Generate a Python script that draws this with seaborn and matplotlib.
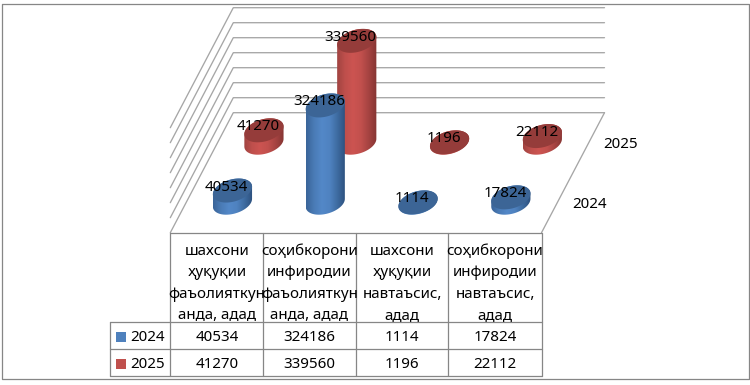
"""
3D cylinder chart with a data table, drawn on a pixel sized axes
"""

import numpy as np
import matplotlib
matplotlib.use('Agg')
import matplotlib.pyplot as plt
from matplotlib.patches import Polygon
import seaborn as sns

# Data
years = ['2024', '2025']
categories = [
    ['шахсони', 'ҳуқуқии', 'фаъолияткун', 'анда, адад'],
    ['соҳибкорони', 'инфиродии', 'фаъолияткун', 'анда, адад'],
    ['шахсони', 'ҳуқуқии', 'навтаъсис,', 'адад'],
    ['соҳибкорони', 'инфиродии', 'навтаъсис,', 'адад'],
]
values_2024 = [40534, 324186, 1114, 17824]
values_2025 = [41270, 339560, 1196, 22112]
grid_levels = [0, 50000, 100000, 150000, 200000, 250000, 300000, 350000]

sns.set_theme(style='white')
plt.rcParams['font.family'] = ['Noto Sans', 'DejaVu Sans']

FONT = 10.9
GREY = '#868686'
GRID = '#a6a6a6'

# Projection of the chart box onto the picture
FRONT_X, FRONT_Y = 170.3, 232.7
CAT_W = 92.8
DEPTH_X, DEPTH_Y = 31.5, -60.0
Z_SCALE = 15.0 / 50000
RADIUS = 0.2


def project(cat, ser, z=0):
    x = FRONT_X + np.asarray(cat) * CAT_W + np.asarray(ser) * DEPTH_X
    y = FRONT_Y + np.asarray(ser) * DEPTH_Y - np.asarray(z) * Z_SCALE
    return x, y


fig = plt.figure(figsize=(7.5, 3.85), dpi=100)
ax = fig.add_axes([0, 0, 1, 1])
ax.set_axis_off()

# Outer frame
ax.plot([1.5, 748.5, 748.5, 1.5, 1.5], [3.5, 3.5, 379, 379, 3.5], color=GREY, lw=0.9)

# Walls: one line along the back and one down the left side per level
right_x, _ = project(4, 2)
for level in grid_levels:
    bx, by = project(0, 2, level)
    fx, fy = project(0, 0, level)
    ax.plot([fx, bx, right_x], [fy, by, by], color=GRID, lw=0.95, zorder=1)
x0, y0 = project(4, 0)
x1, y1 = project(4, 2)
ax.plot([x0, x1], [y0, y1], color=GRID, lw=0.95, zorder=1)


def cylinder(cat, ser, value, cmap, top_color, z):
    t = np.linspace(0, 2 * np.pi, 181)[:-1]
    cs = cat + 0.5 + RADIUS * np.cos(t)
    ss = ser + 0.5 + RADIUS * np.sin(t)
    bx, by = project(cs, ss, 0)
    tx, ty = project(cs, ss, value)

    # silhouette: lower arc of the base, then upper arc of the top
    left, right = bx.argmin(), bx.argmax()
    idx = np.arange(left, left + len(t)) % len(t)
    split = np.where(idx == right)[0][0]
    arc_a, arc_b = idx[:split + 1], idx[split:]
    if by[arc_a].mean() > by[arc_b].mean():
        lower, upper = arc_a, arc_b
    else:
        lower, upper = arc_b[::-1], arc_a[::-1]
    xs = np.concatenate([bx[lower], tx[upper]])
    ys = np.concatenate([by[lower], ty[upper]])
    outline = Polygon(np.column_stack([xs, ys]), closed=True, fc='none', ec='none', zorder=z)
    ax.add_patch(outline)

    shade = np.linspace(0, 1, 128).reshape(1, -1)
    img = ax.imshow(shade, cmap=cmap, aspect='auto', zorder=z,
                    extent=[bx.min(), bx.max(), by.max(), ty.min()], vmin=0, vmax=1)
    img.set_clip_path(outline)
    ax.add_patch(Polygon(np.column_stack([tx, ty]), closed=True, fc=top_color, ec='none', zorder=z + 0.5))


blue_cmap = sns.blend_palette(['#3a6498', '#4a7bb6', '#5388c8', '#4f82c0', '#3d6a9f', '#2c4f7c'], as_cmap=True)
red_cmap = sns.blend_palette(['#a04340', '#bf4f4c', '#cc5451', '#c2504d', '#a54341', '#853533'], as_cmap=True)
blue_top = '#3c6596'
red_top = '#953c3a'

series = [
    (1, values_2025, red_cmap, red_top),
    (0, values_2024, blue_cmap, blue_top),
]
order = 2
for ser, vals, cmap, top in series:
    for cat, val in enumerate(vals):
        cylinder(cat, ser, val, cmap, top, order)
        order += 1

# Value labels sit just up and left of each cylinder top
for ser, vals, cmap, top in series:
    for cat, val in enumerate(vals):
        x, y = project(cat + 0.5, ser + 0.5, val)
        ax.text(x - 6, y, str(val), ha='center', va='baseline', fontsize=FONT,
                color='black', zorder=50)

# Depth axis labels
for ser, year in enumerate(years):
    x, y = project(4, ser + 0.5)
    ax.text(x + 32, y + 5.5, year, ha='center', va='baseline', fontsize=FONT, color='black')

# Data table
col_x = [170.3, 263.3, 355.7, 448.3, 541.7]
row_y = [232.7, 322.3, 349.3, 376.3]
left_x = 110.3
for x in col_x:
    ax.plot([x, x], [row_y[0], row_y[-1]], color=GREY, lw=0.9, zorder=60)
ax.plot([left_x, left_x], [row_y[1], row_y[-1]], color=GREY, lw=0.9, zorder=60)
ax.plot([col_x[0], col_x[-1]], [row_y[0], row_y[0]], color=GREY, lw=0.9, zorder=60)
for y in row_y[1:]:
    ax.plot([left_x, col_x[-1]], [y, y], color=GREY, lw=0.9, zorder=60)

line_y = [255, 276.5, 297.7, 319]
for i, lines in enumerate(categories):
    cx = (col_x[i] + col_x[i + 1]) / 2
    for text, y in zip(lines, line_y):
        ax.text(cx, y, text, ha='center', va='baseline', fontsize=FONT, color='black', zorder=61)

row_base = [341, 368]
for vals, y in zip([values_2024, values_2025], row_base):
    for i, val in enumerate(vals):
        cx = (col_x[i] + col_x[i + 1]) / 2
        ax.text(cx, y, str(val), ha='center', va='baseline', fontsize=FONT, color='black', zorder=61)

for year, y, color in zip(years, row_base, ['#4f81bd', '#c0504d']):
    sns.scatterplot(x=[121.0], y=[y - 4.5], color=color, marker='s', s=42, linewidth=0, ax=ax, zorder=61)
    ax.text(130.5, y, year, ha='left', va='baseline', fontsize=FONT, color='black', zorder=61)

ax.set_xlim(0, 750)
ax.set_ylim(385, 0)
fig.savefig('out.png', dpi=100, facecolor='white')
plt.close(fig)
